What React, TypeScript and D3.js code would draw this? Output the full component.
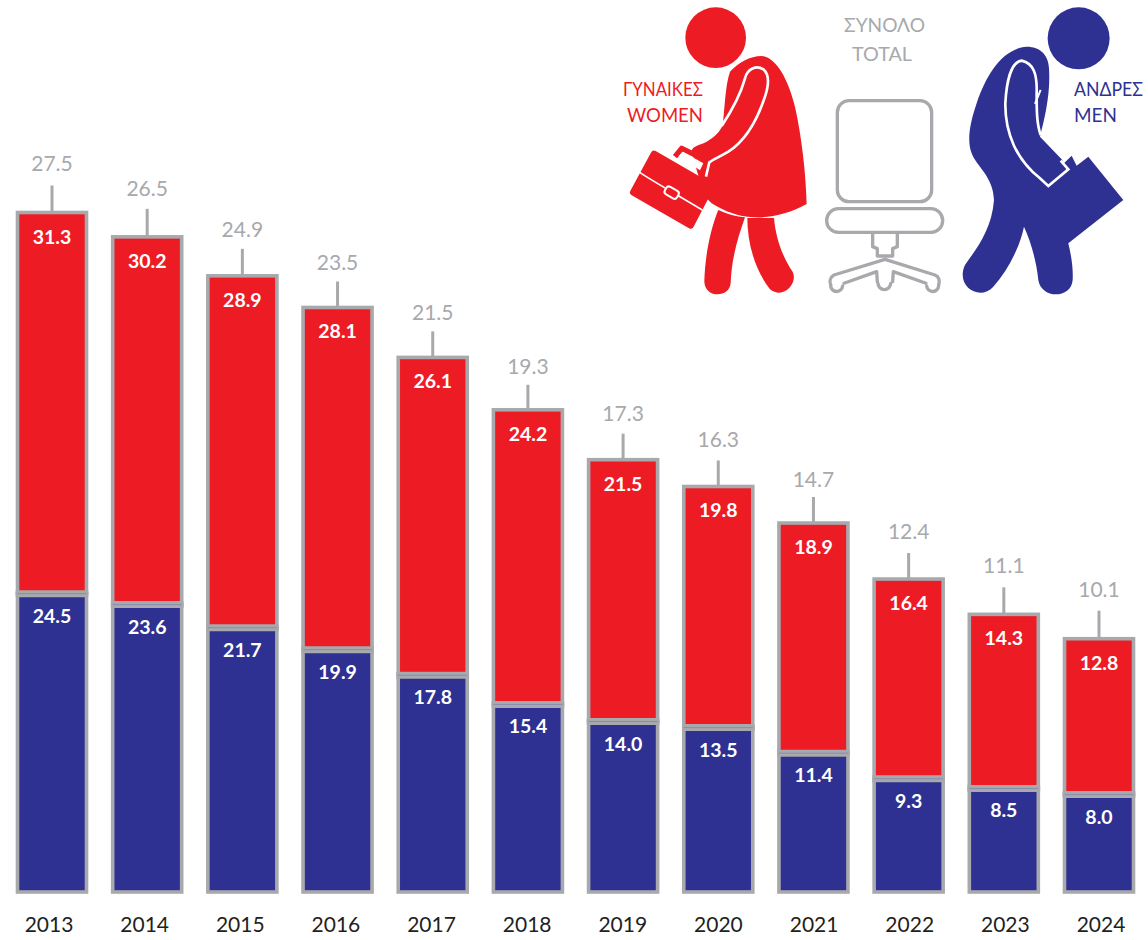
import React from "react";
import * as d3 from "d3";

const years = ["2013","2014","2015","2016","2017","2018","2019","2020","2021","2022","2023","2024"];
const women = [31.3,30.2,28.9,28.1,26.1,24.2,21.5,19.8,18.9,16.4,14.3,12.8];
const men = [24.5,23.6,21.7,19.9,17.8,15.4,14.0,13.5,11.4,9.3,8.5,8.0];
const totals = [27.5,26.5,24.9,23.5,21.5,19.3,17.3,16.3,14.7,12.4,11.1,10.1];
// hand placement of the total labels above each bar in the original layout
const labelGap = [49,48,46,44,44,43,46,46,43,47,48,49];
const whisker = [27,28,27,26,26,25,26,26,26,26,27,28];

const RED = "#ed1c24";
const BLUE = "#2e3192";
const GRAY = "#a7a9ac";
const FONT = "Lato, 'Open Sans', sans-serif";

const x = d3.scaleBand<string>().domain(years).range([17.5, 1133.5]).paddingInner(0.275).paddingOuter(0);
const xAxis = d3.scalePoint<string>().domain(years).range([49, 1101]);
const y = d3.scaleLinear().domain([0, 55.8]).range([892, 212.5]);

const Woman = () => (
  <g transform="translate(620,0) scale(0.3333)">
    <circle cx={287} cy={113} r={91} fill={RED} />
    <path fill={RED} d="M330 215 C355 188 390 168 425 168 C470 172 505 240 525 320 C545 410 558 520 560 612 C510 640 450 655 400 652 C355 650 315 635 275 610 L255 590 L230 510 L215 452 C218 438 240 435 260 425 C285 410 300 395 308 375 C315 320 315 260 330 215 Z" />
    <path fill="none" stroke="#fff" strokeWidth={8} d="M305 378 C330 340 360 290 375 235 C382 205 410 195 430 208 C450 225 445 260 435 290 C415 350 380 420 325 455 C300 470 280 478 268 487 L258 530" />
    <path fill={RED} stroke={RED} strokeWidth={20} strokeLinejoin="round" d="M102 462 L272 560 L212 676 L40 577 Z" />
    <path fill="none" stroke={RED} strokeWidth={16} strokeLinejoin="round" d="M165 470 L185 445 L225 465" />
    <path fill="#fff" d="M176 468 L190 456 L250 490 L240 511 Z" />
    <path fill="none" stroke="#fff" strokeWidth={5} d="M55 515 C100 545 190 595 255 635" />
    <rect x={-21} y={-13} width={42} height={26} rx={9} fill={RED} stroke="#fff" strokeWidth={6} transform="translate(155,578) rotate(30)" />
    <path fill={RED} d="M295 630 C320 642 350 650 375 652 C355 710 335 770 332 850 C328 895 255 895 253 845 C255 770 270 690 295 630 Z" />
    <path fill={RED} d="M382 654 L462 654 C468 720 490 775 518 815 C535 850 490 900 450 868 C405 810 382 730 382 654 Z" />
  </g>
);

const Man = () => (
  <g transform="translate(820,0) scale(0.3333)">
    <circle cx={776} cy={115} r={93} fill={BLUE} />
    <path fill={BLUE} d="M620 140 C660 140 686 165 687 205 C692 280 675 350 660 410 L725 478 L732 490 L755 467 L770 497 L805 470 L910 600 L745 730 C755 770 760 810 758 840 C755 895 665 900 655 840 C650 790 635 730 612 680 C600 740 565 810 520 860 C480 905 405 860 435 795 C470 745 515 690 522 600 C520 530 470 500 455 460 C440 420 450 370 470 310 C500 220 550 145 620 140 Z" />
    <path fill="none" stroke="#fff" strokeWidth={8} d="M662 405 C650 370 650 330 650 280 C652 220 640 190 605 182 C575 185 560 240 556 310 C555 400 590 480 660 535 L685 558 L745 508 L722 482" />
    <path fill="none" stroke="#fff" strokeWidth={6} d="M662 270 L645 312" />
  </g>
);

const Chair = () => (
  <g transform="translate(820,0) scale(0.3333)" fill="none" stroke={GRAY} strokeWidth={10} strokeLinejoin="round" strokeLinecap="round">
    <rect x={52} y={302} width={283} height={303} rx={35} />
    <rect x={20} y={626} width={348} height={71} rx={35} />
    <path d="M158 697 L158 740 L172 746 L172 768 L218 768 L218 746 L232 740 L232 697" />
    <path d="M195 778 L345 825 C358 830 360 845 356 855 M195 778 L42 825 C30 832 28 845 32 855" />
    <path d="M72 850 L170 815 L172 845 M318 850 L220 815 L218 845" />
    <path d="M32 855 A18 18 0 0 0 68 858 M174 850 A18 18 0 1 0 212 850 M320 858 A18 18 0 0 0 356 855" />
  </g>
);

export default function App() {
  const sw = 3.6;
  return (
    <svg width={1148} height={940} style={{ position: "absolute", left: 0, top: 0, background: "#fff" }} fontFamily={FONT}>
      {years.map((yr, i) => {
        const bx = x(yr)!;
        const bw = x.bandwidth();
        const cx = bx + bw / 2;
        const y0 = y(0);
        const yM = y(men[i]);
        const yW = y(men[i] + women[i]);
        return (
          <g key={yr}>
            <line x1={cx} x2={cx} y1={yW} y2={yW - whisker[i]} stroke={GRAY} strokeWidth={3} />
            <rect x={bx} y={yM} width={bw} height={y0 - yM} fill={BLUE} stroke={GRAY} strokeWidth={sw} />
            <rect x={bx} y={yW} width={bw} height={yM - yW} fill={RED} stroke={GRAY} strokeWidth={sw} />
            <line x1={bx - sw / 2} x2={bx + bw + sw / 2} y1={yM} y2={yM} stroke={GRAY} strokeWidth={7} />
            <line x1={bx} x2={bx + bw} y1={yM} y2={yM} stroke="#8a8cae" strokeWidth={1} />
            <text x={cx} y={yW - labelGap[i] + 7} textAnchor="middle" fontSize={21} fill={GRAY}>{totals[i].toFixed(1)}</text>
            <text x={cx} y={yW + 31} textAnchor="middle" fontSize={19.5} fontWeight={700} fill="#fff">{women[i].toFixed(1)}</text>
            <text x={cx} y={yM + 29} textAnchor="middle" fontSize={19.5} fontWeight={700} fill="#fff">{men[i].toFixed(1)}</text>
            <text x={xAxis(yr)} y={932} textAnchor="middle" fontSize={21} fill="#231f20">{yr}</text>
          </g>
        );
      })}
      <Woman />
      <Chair />
      <Man />
      <g fontSize={20}>
        <text x={623} y={96} textLength={80} lengthAdjust="spacingAndGlyphs" fill={RED}>ΓΥΝΑΙΚΕΣ</text>
        <text x={627} y={122} textLength={76} lengthAdjust="spacingAndGlyphs" fill={RED}>WOMEN</text>
        <text x={844} y={32} textLength={81} lengthAdjust="spacingAndGlyphs" fill={GRAY}>ΣΥΝΟΛΟ</text>
        <text x={852} y={61} textLength={60} lengthAdjust="spacingAndGlyphs" fill={GRAY}>TOTAL</text>
        <text x={1074} y={96} textLength={69} lengthAdjust="spacingAndGlyphs" fill={BLUE}>ΑΝΔΡΕΣ</text>
        <text x={1074} y={122} textLength={43} lengthAdjust="spacingAndGlyphs" fill={BLUE}>MEN</text>
      </g>
    </svg>
  );
}
